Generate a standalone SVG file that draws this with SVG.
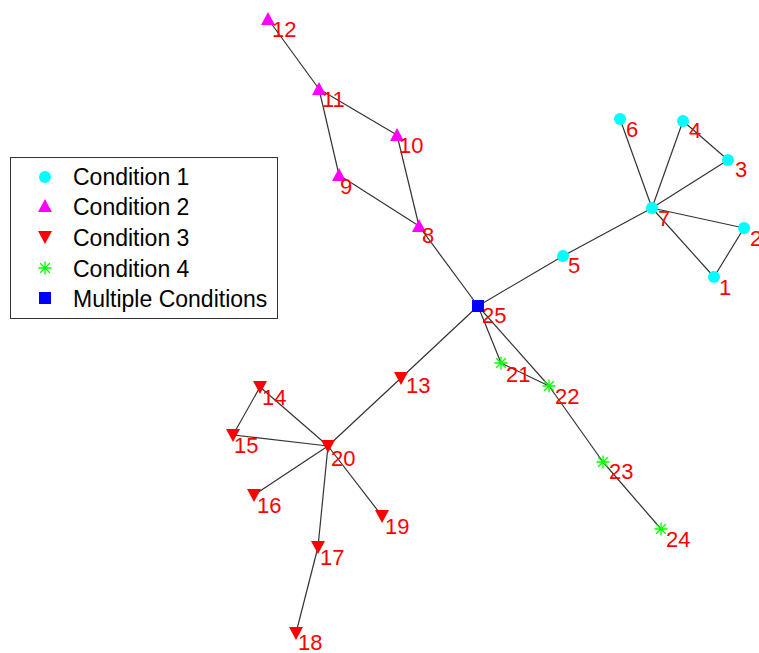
<svg xmlns="http://www.w3.org/2000/svg" xmlns:xlink="http://www.w3.org/1999/xlink" width="759" height="653" viewBox="0 0 759 653">
<style>
.e{stroke:#333;stroke-width:1.2;fill:none}
.lbl{font-family:"Liberation Sans",Arial,sans-serif;font-size:22px;fill:#ff0000}
.leg{font-family:"Liberation Sans",Arial,sans-serif;font-size:23px;fill:#000}
.c1{fill:#00ffff}
.c2{fill:#ff00ff}
.c3{fill:#ff0000}
.c4{stroke:#00ff00;stroke-width:1.3;fill:none}
.c5{fill:#0000ff}
</style>
<defs>
<circle id="m1" class="c1" cx="0" cy="0" r="6"/>
<polygon id="m2" class="c2" points="0,-7 7,6 -7,6"/>
<polygon id="m3" class="c3" points="-7,-6 7,-6 0,7"/>
<path id="m4" class="c4" d="M-6.5,0H6.5M0,-6.5V6.5M-4.8,-4.8L4.8,4.8M-4.8,4.8L4.8,-4.8"/>
<rect id="m5" class="c5" x="-6" y="-6" width="12" height="12"/>
</defs>
<rect width="759" height="653" fill="#fff"/>
<g id="connectors">
<line class="e" x1="268" y1="19" x2="319" y2="89"/>
<line class="e" x1="319" y1="89" x2="397" y2="135"/>
<line class="e" x1="319" y1="89" x2="339" y2="175"/>
<line class="e" x1="397" y1="135" x2="419" y2="226"/>
<line class="e" x1="339" y1="175" x2="419" y2="226"/>
<line class="e" x1="419" y1="226" x2="478" y2="306"/>
<line class="e" x1="478" y1="306" x2="563" y2="256"/>
<line class="e" x1="563" y1="256" x2="652" y2="208"/>
<line class="e" x1="652" y1="208" x2="620" y2="119"/>
<line class="e" x1="652" y1="208" x2="683" y2="121"/>
<line class="e" x1="683" y1="121" x2="728" y2="160"/>
<line class="e" x1="652" y1="208" x2="728" y2="160"/>
<line class="e" x1="652" y1="208" x2="744" y2="228"/>
<line class="e" x1="744" y1="228" x2="714" y2="277"/>
<line class="e" x1="652" y1="208" x2="714" y2="277"/>
<line class="e" x1="478" y1="306" x2="401" y2="378"/>
<line class="e" x1="401" y1="378" x2="328" y2="446"/>
<line class="e" x1="328" y1="446" x2="260" y2="387"/>
<line class="e" x1="260" y1="387" x2="233" y2="435"/>
<line class="e" x1="233" y1="435" x2="328" y2="446"/>
<line class="e" x1="328" y1="446" x2="254" y2="495"/>
<line class="e" x1="328" y1="446" x2="382" y2="516"/>
<line class="e" x1="328" y1="446" x2="318" y2="547"/>
<line class="e" x1="318" y1="547" x2="296" y2="633"/>
<line class="e" x1="478" y1="306" x2="501" y2="363"/>
<line class="e" x1="501" y1="363" x2="549" y2="386"/>
<line class="e" x1="478" y1="306" x2="549" y2="386"/>
<line class="e" x1="549" y1="386" x2="603" y2="462"/>
<line class="e" x1="603" y1="462" x2="661" y2="529"/>
</g>
<g id="n1"><use xlink:href="#m1" x="714" y="277"/><text class="lbl" x="719" y="295">1</text></g>
<g id="n2"><use xlink:href="#m1" x="744" y="228"/><text class="lbl" x="750" y="246">2</text></g>
<g id="n3"><use xlink:href="#m1" x="728" y="160"/><text class="lbl" x="735" y="177">3</text></g>
<g id="n4"><use xlink:href="#m1" x="683" y="121"/><text class="lbl" x="689" y="138">4</text></g>
<g id="n5"><use xlink:href="#m1" x="563" y="256"/><text class="lbl" x="568" y="273">5</text></g>
<g id="n6"><use xlink:href="#m1" x="620" y="119"/><text class="lbl" x="626" y="137">6</text></g>
<g id="n7"><use xlink:href="#m1" x="652" y="208"/><text class="lbl" x="658" y="226">7</text></g>
<g id="n8"><use xlink:href="#m2" x="419" y="226"/><text class="lbl" x="422" y="243">8</text></g>
<g id="n9"><use xlink:href="#m2" x="339" y="175"/><text class="lbl" x="340" y="194">9</text></g>
<g id="n10"><use xlink:href="#m2" x="397" y="135"/><text class="lbl" x="399" y="153">10</text></g>
<g id="n11"><use xlink:href="#m2" x="319" y="89"/><text class="lbl" x="322" y="107">11</text></g>
<g id="n12"><use xlink:href="#m2" x="268" y="19"/><text class="lbl" x="272" y="37">12</text></g>
<g id="n13"><use xlink:href="#m3" x="401" y="378"/><text class="lbl" x="406" y="393">13</text></g>
<g id="n14"><use xlink:href="#m3" x="260" y="387"/><text class="lbl" x="262" y="405">14</text></g>
<g id="n15"><use xlink:href="#m3" x="233" y="435"/><text class="lbl" x="234" y="453">15</text></g>
<g id="n16"><use xlink:href="#m3" x="254" y="495"/><text class="lbl" x="257" y="513">16</text></g>
<g id="n17"><use xlink:href="#m3" x="318" y="547"/><text class="lbl" x="320" y="565">17</text></g>
<g id="n18"><use xlink:href="#m3" x="296" y="633"/><text class="lbl" x="298" y="650">18</text></g>
<g id="n19"><use xlink:href="#m3" x="382" y="516"/><text class="lbl" x="385" y="534">19</text></g>
<g id="n20"><use xlink:href="#m3" x="328" y="446"/><text class="lbl" x="331" y="466">20</text></g>
<g id="n21"><use xlink:href="#m4" x="501" y="363"/><text class="lbl" x="506" y="382">21</text></g>
<g id="n22"><use xlink:href="#m4" x="549" y="386"/><text class="lbl" x="555" y="404">22</text></g>
<g id="n23"><use xlink:href="#m4" x="603" y="462"/><text class="lbl" x="609" y="479">23</text></g>
<g id="n24"><use xlink:href="#m4" x="661" y="529"/><text class="lbl" x="666" y="547">24</text></g>
<g id="n25"><use xlink:href="#m5" x="478" y="306"/><text class="lbl" x="482" y="323">25</text></g>
<g id="legend">
<rect x="10.5" y="157.5" width="267" height="161" fill="#fff" stroke="#333" stroke-width="1"/>
<use xlink:href="#m1" x="45" y="177"/><text class="leg" x="73" y="185">Condition 1</text>
<use xlink:href="#m2" x="45" y="206"/><text class="leg" x="73" y="215">Condition 2</text>
<use xlink:href="#m3" x="45" y="237"/><text class="leg" x="73" y="246">Condition 3</text>
<use xlink:href="#m4" x="45" y="268"/><text class="leg" x="73" y="277">Condition 4</text>
<use xlink:href="#m5" x="45" y="298"/><text class="leg" x="73" y="307">Multiple Conditions</text>
</g>
</svg>
